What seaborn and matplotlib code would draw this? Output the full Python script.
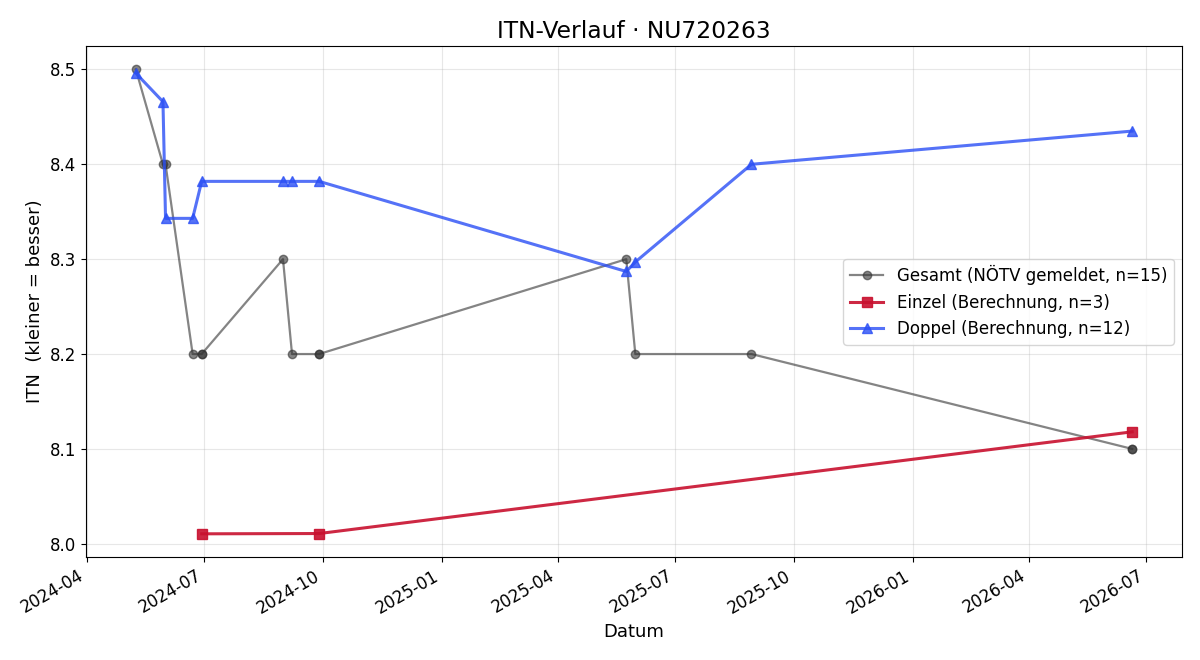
import pandas as pd
import matplotlib
matplotlib.use("Agg")
import matplotlib.pyplot as plt
import matplotlib.dates as mdates
import seaborn as sns

# ================= Daten =================
gesamt_dates = ["2024-05-09", "2024-05-30", "2024-06-01", "2024-06-22", "2024-06-29", "2024-06-29",
                "2024-08-31", "2024-09-07", "2024-09-28", "2024-09-28", "2025-05-24", "2025-05-31",
                "2025-08-29", "2026-06-20", "2026-06-20"]
gesamt_itn = [8.5, 8.4, 8.4, 8.2, 8.2, 8.2, 8.3, 8.2, 8.2, 8.2, 8.3, 8.2, 8.2, 8.1, 8.1]

einzel_dates = ["2024-06-29", "2024-09-28", "2026-06-20"]
einzel_itn = [8.0105, 8.0108, 8.118]

doppel_dates = ["2024-05-09", "2024-05-30", "2024-06-01", "2024-06-22", "2024-06-29", "2024-08-31",
                "2024-09-07", "2024-09-28", "2025-05-24", "2025-05-31", "2025-08-29", "2026-06-20"]
doppel_itn = [8.496, 8.466, 8.343, 8.343, 8.382, 8.382, 8.382, 8.382, 8.287, 8.297, 8.400, 8.435]


def plot_itn():
    plt.rcParams['font.family'] = ['DejaVu Sans']
    fig, ax = plt.subplots(figsize=(12, 6.6), dpi=100)

    sns.lineplot(x=pd.to_datetime(gesamt_dates), y=gesamt_itn, ax=ax, estimator=None, sort=False,
                 color='#333333', alpha=0.6, marker='o', markersize=6, linewidth=1.6,
                 markeredgecolor='#333333', markeredgewidth=1,
                 label=f'Gesamt (NÖTV gemeldet, n={len(gesamt_itn)})')
    sns.lineplot(x=pd.to_datetime(einzel_dates), y=einzel_itn, ax=ax, estimator=None, sort=False,
                 color='#c8102e', alpha=0.9, marker='s', markersize=7, linewidth=2.2,
                 markeredgecolor='#c8102e', markeredgewidth=1,
                 label=f'Einzel (Berechnung, n={len(einzel_itn)})')
    sns.lineplot(x=pd.to_datetime(doppel_dates), y=doppel_itn, ax=ax, estimator=None, sort=False,
                 color='#2b4ff5', alpha=0.8, marker='^', markersize=7, linewidth=2.2,
                 markeredgecolor='#2b4ff5', markeredgewidth=1,
                 label=f'Doppel (Berechnung, n={len(doppel_itn)})')

    ax.set_title('ITN-Verlauf · NU720263', fontsize=16.8)
    ax.set_xlabel('Datum', fontsize=13)
    ax.set_ylabel('ITN  (kleiner = besser)', fontsize=13)
    ax.grid(True, alpha=0.3)
    ax.tick_params(labelsize=12)
    ax.xaxis.set_major_locator(mdates.MonthLocator(bymonth=[1, 4, 7, 10]))
    ax.xaxis.set_major_formatter(mdates.DateFormatter('%Y-%m'))
    ax.legend(loc='center right', fontsize=12)
    fig.autofmt_xdate()

    fig.subplots_adjust(left=0.0717, right=0.985, top=0.930, bottom=0.156)
    plt.savefig('out.png', dpi=100)


if __name__ == "__main__":
    plot_itn()
